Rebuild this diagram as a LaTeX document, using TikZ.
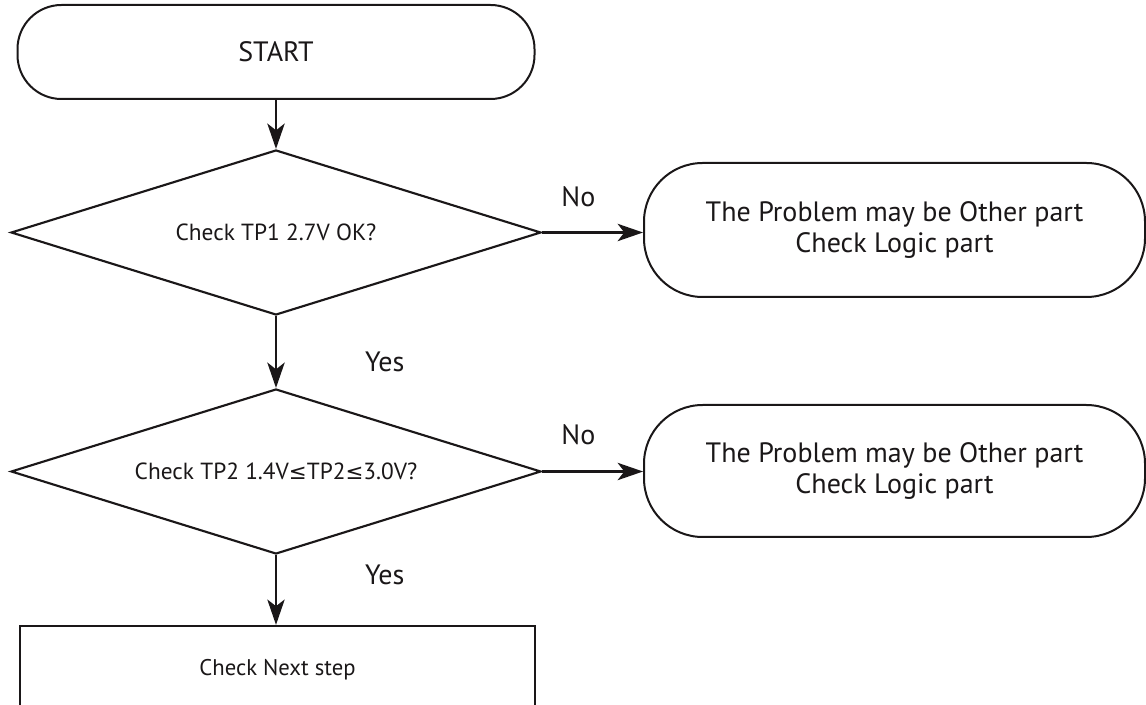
\documentclass[tikz,border=0pt]{standalone}
\usepackage{fontspec}
\setmainfont{PT Sans}
\newfontfamily\symfont{DejaVu Sans}
\usetikzlibrary{arrows.meta,shapes.geometric}
\definecolor{inkblack}{HTML}{1A1718}

\begin{document}
\begin{tikzpicture}[
  x=0.75pt, y=0.75pt,
  color=inkblack, text=inkblack,
  font=\fontsize{21}{23.5}\selectfont,
  term/.style={draw, line width=1.5pt, rounded corners=33pt, inner sep=0pt,
               align=center},
  decision/.style={draw, diamond, aspect=3.2, line width=1.6pt, inner sep=0pt,
                   minimum width=397.5pt, minimum height=123.75pt,
                   font=\fontsize{17.5}{20}\selectfont},
  proc/.style={draw, rectangle, line width=1.7pt, inner sep=0pt,
               minimum width=386.25pt, minimum height=65.25pt,
               font=\fontsize{17}{19}\selectfont},
  lbl/.style={inner sep=0pt},
  arr/.style={-{Stealth[length=19pt, width=13pt, inset=5pt]}, line width=1.8pt},
]
\useasboundingbox (0,0) rectangle (1146,-705);

\node[term, minimum width=387.75pt, minimum height=70.5pt] (start)
  at (276,-52) {START};
\node[decision] (d1) at (276,-232.5) {Check TP1 2.7V OK?};
\node[term, rounded corners=44pt, minimum width=375.75pt,
  minimum height=100.5pt] (other1) at (894.5,-230)
  {The Problem may be Other part\\Check Logic part};
\node[decision] (d2) at (276,-471.5)
  {Check TP2 1.4V{\symfont\fontsize{16}{20}\selectfont ≤}TP2{\symfont\fontsize{16}{20}\selectfont ≤}3.0V?};
\node[term, rounded corners=44pt, minimum width=375.75pt,
  minimum height=99pt] (other2) at (894.5,-471)
  {The Problem may be Other part\\Check Logic part};
\node[proc] (next) at (277.5,-669.5) {Check Next step};

\draw[arr] (start.south) -- (d1.north);
\draw[arr] (d1.east) -- node[lbl, above=18pt, pos=0.36] {No}
  (d1.east -| other1.west);
\draw[arr] (d1.south) -- node[lbl, right=66pt, pos=0.64] {Yes} (d2.north);
\draw[arr] (d2.east) -- node[lbl, above=19pt, pos=0.36] {No}
  (d2.east -| other2.west);
\draw[arr] (d2.south) -- node[lbl, right=66pt, pos=0.28] {Yes}
  (d2.south |- next.north);
\end{tikzpicture}
\end{document}
